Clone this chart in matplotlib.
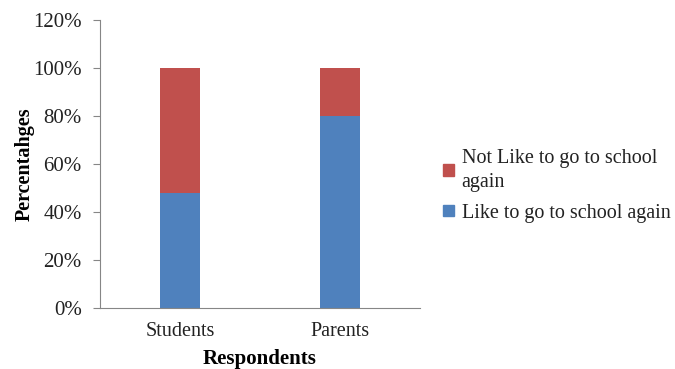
import matplotlib.pyplot as plt
from matplotlib.patches import Patch

respondents = ["Students", "Parents"]
like_again = [48, 80]
not_like_again = [52, 20]
yticks = [0, 20, 40, 60, 80, 100, 120]

plt.rcParams['font.family'] = ['Liberation Serif', 'DejaVu Serif']

fig = plt.figure(figsize=(6.75, 3.69), dpi=100)
ax = fig.add_axes([0.148, 0.165, 0.474, 0.781])

x = range(len(respondents))
ax.bar(x, like_again, width=0.25, color="#4F81BD")
ax.bar(x, not_like_again, width=0.25, bottom=like_again, color="#C0504D")

ax.set_xlim(-0.5, 1.5)
ax.set_ylim(0, 120)
ax.set_yticks(yticks)
ax.set_yticklabels([f"{v}%" for v in yticks], fontsize=15, color="#222222")
ax.set_xticks(list(x))
ax.set_xticklabels(respondents, fontsize=14.5, color="#222222")
ax.tick_params(axis="x", length=0, pad=10)
ax.tick_params(axis="y", length=5, color="#868686", pad=8)

for s in ["top", "right"]:
    ax.spines[s].set_visible(False)
for s in ["left", "bottom"]:
    ax.spines[s].set_color("#868686")

ax.set_ylabel("Percentahges", fontsize=14.5, fontweight="bold", labelpad=-1)
ax.set_xlabel("Respondents", fontsize=15, fontweight="bold", labelpad=6)

handles = [Patch(color="#C0504D"), Patch(color="#4F81BD")]
labels = ["Not Like to go to school\nagain", "Like to go to school again"]
leg = fig.legend(handles, labels, loc="center left", bbox_to_anchor=(0.645, 0.497),
                 frameon=False, fontsize=14.5, handlelength=0.5, handleheight=0.5,
                 handletextpad=0.4, labelspacing=0.6, borderaxespad=0)
plt.setp(leg.get_texts(), linespacing=1.35, color="#222222")

fig.savefig("out.png", dpi=100)
